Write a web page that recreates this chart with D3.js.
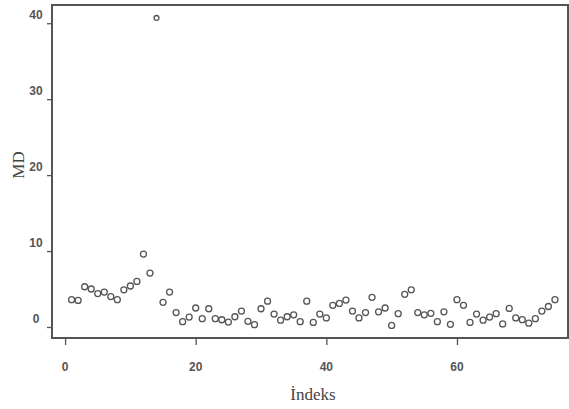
<!DOCTYPE html>
<html>
<head>
<meta charset="utf-8">
<script src="https://cdn.jsdelivr.net/npm/d3@7"></script>
<style>
	body { margin: 0; background: #fff; }
	svg { display: block; }
</style>
</head>
<body>
<div id="chart"></div>
<script>
// MD values, index 1..75
var index = d3.range(1, 76);
var md = [
	3.6, 3.5, 5.3, 5.0, 4.4, 4.6, 4.0, 3.6, 4.9, 5.4,
	6.0, 9.6, 7.1, 40.7, 3.25, 4.6, 1.9, 0.7, 1.3, 2.5,
	1.1, 2.4, 1.1, 0.95, 0.65, 1.35, 2.1, 0.75, 0.3, 2.4,
	3.4, 1.7, 0.9, 1.35, 1.6, 0.7, 3.4, 0.6, 1.7, 1.2,
	2.85, 3.1, 3.55, 2.1, 1.2, 1.9, 3.9, 2.0, 2.5, 0.2,
	1.75, 4.3, 4.9, 1.9, 1.6, 1.8, 0.7, 2.0, 0.35, 3.6,
	2.85, 0.6, 1.7, 0.9, 1.3, 1.75, 0.4, 2.45, 1.2, 0.96,
	0.5, 1.1, 2.1, 2.7, 3.6
];
var xTicks = [0, 20, 40, 60];
var yTicks = [0, 10, 20, 30, 40];

(function() {
	var width = 569, height = 409;
	var plotLeft = 52, plotRight = 568, plotTop = 5, plotBottom = 338;
	var ink = "#555";
	var labelFont = "'Liberation Sans', Arial, sans-serif";

	var svg = d3.select("#chart").append("svg")
		.attr("width", width)
		.attr("height", height);

	var x = d3.scaleLinear().domain([-2, 77]).range([plotLeft, plotRight]);
	var y = d3.scaleLinear().domain([-1.45, 42.4]).range([plotBottom, plotTop]);

	// frame
	svg.append("rect")
		.attr("x", plotLeft)
		.attr("y", plotTop)
		.attr("width", plotRight - plotLeft)
		.attr("height", plotBottom - plotTop)
		.attr("fill", "none")
		.attr("stroke", ink)
		.attr("stroke-width", 2);

	// x axis
	var gx = svg.append("g")
		.attr("transform", "translate(0," + plotBottom + ")")
		.call(d3.axisBottom(x).tickValues(xTicks).tickSize(7).tickSizeOuter(0).tickFormat(""));
	gx.select(".domain").remove();
	gx.selectAll(".tick line").attr("stroke", ink).attr("stroke-width", 1.3);

	svg.append("g")
		.selectAll("text")
		.data(xTicks)
		.enter().append("text")
		.attr("x", function(d) { return x(d); })
		.attr("y", 371)
		.attr("text-anchor", "middle")
		.attr("font-family", labelFont)
		.attr("font-size", 12)
		.attr("font-weight", 600)
		.attr("fill", ink)
		.text(function(d) { return String(d); });

	// y axis
	var gy = svg.append("g")
		.attr("transform", "translate(" + plotLeft + ",0)")
		.call(d3.axisLeft(y).tickValues(yTicks).tickSize(5).tickSizeOuter(0).tickFormat(""));
	gy.select(".domain").remove();
	gy.selectAll(".tick line").attr("stroke", ink).attr("stroke-width", 1.3);

	// y tick labels (they sit a bit above their ticks in the scan)
	svg.append("g")
		.selectAll("text")
		.data(yTicks)
		.enter().append("text")
		.attr("x", 36)
		.attr("y", function(d) { return y(d) - 4; })
		.attr("text-anchor", "middle")
		.attr("font-family", labelFont)
		.attr("font-size", 12)
		.attr("font-weight", 600)
		.attr("fill", ink)
		.text(function(d) { return String(d); });

	// points
	svg.append("g")
		.selectAll("circle")
		.data(md)
		.enter().append("circle")
		.attr("cx", function(d, i) { return x(index[i]); })
		.attr("cy", function(d) { return y(d); })
		.attr("r", function(d) { return d > 30 ? 2.4 : 3; })
		.attr("fill", "none")
		.attr("stroke", ink)
		.attr("stroke-width", 1.3);

	// axis titles
	svg.append("text")
		.attr("x", 313)
		.attr("y", 400)
		.attr("text-anchor", "middle")
		.attr("font-family", "'Liberation Serif', 'Times New Roman', serif")
		.attr("font-size", 17)
		.attr("fill", "#444")
		.text("İndeks");

	svg.append("text")
		.attr("transform", "translate(24,165) rotate(-90)")
		.attr("text-anchor", "middle")
		.attr("font-family", "'Liberation Serif', 'Times New Roman', serif")
		.attr("font-size", 17)
		.attr("fill", "#444")
		.text("MD");
})();
</script>
</body>
</html>
